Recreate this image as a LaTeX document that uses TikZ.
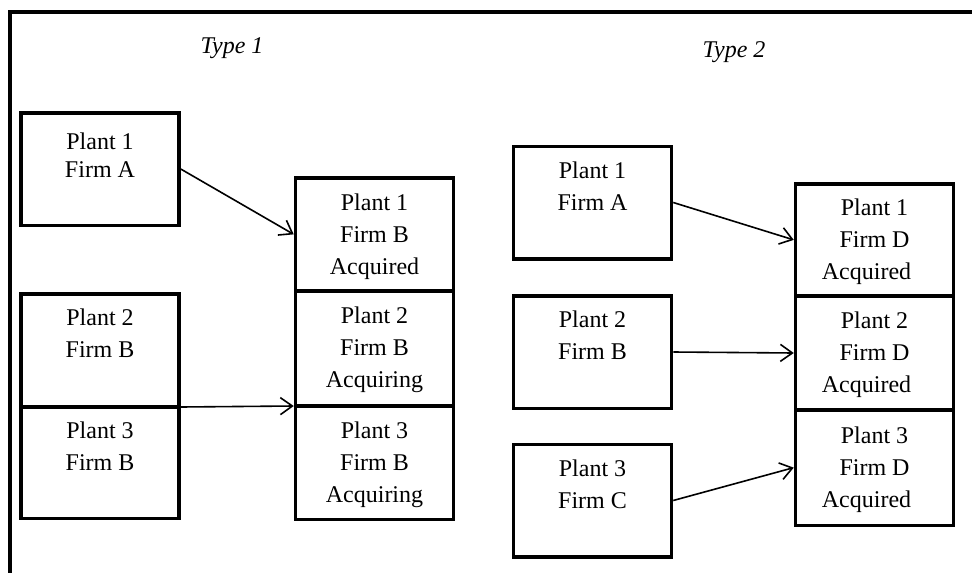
\documentclass[tikz,border=0pt]{standalone}
\usepackage{fontspec}
\setmainfont{Liberation Serif}
\usetikzlibrary{arrows.meta,calc}
\tikzset{
  plantbox/.style={draw, line width=3.5pt, minimum width=158pt, minimum height=#1, inner sep=0pt},
  plantbox/.default=112.5pt,
  txt/.style={inner sep=0pt, anchor=north, align=center, font=\fontsize{24}{32}\selectfont},
  txttight/.style={txt, font=\fontsize{24}{28}\selectfont},
  typelbl/.style={inner sep=0pt, anchor=base, font=\fontsize{24}{28}\selectfont\itshape},
  arr/.style={line width=1.6pt, -{Straight Barb[length=12pt,width=17pt,line width=1.6pt]}},
  frame/.style={line width=4pt, line join=miter}
}
\begin{document}
\begin{tikzpicture}[x=1pt,y=-1pt]
\useasboundingbox (0,0) rectangle (972,573);
\fill[white] (0,0) rectangle (972,573);
\draw[frame] (10,575) -- (10,12) -- (975,12);

\node[typelbl] (t1) at (232,53) {Type 1};
\node[typelbl] (t2) at (734,57) {Type 2};

% Type 1 left
\node[plantbox] (a1) at (100,169) {};
\node[plantbox=113.25pt] (a2) at (100,350.375) {};
\node[plantbox=111.25pt] (a3) at (100,462.625) {};
% Type 1 right
\node[plantbox=113.25pt] (b1) at (374.5,234.375) {};
\node[plantbox=115pt] (b2) at (374.5,348.5) {};
\node[plantbox=113.25pt] (b3) at (374.5,462.625) {};
% Type 2 left
\node[plantbox] (c1) at (592.5,202.5) {};
\node[plantbox] (c2) at (592.5,352) {};
\node[plantbox] (c3) at (592.5,500.5) {};
% Type 2 right
\node[plantbox=112.25pt] (d1) at (874.5,239.875) {};
\node[plantbox=114pt] (d2) at (874.5,353) {};
\node[plantbox=115.25pt] (d3) at (874.5,467.625) {};

% texts
\node[txttight] (a1t) at ($(a1.north)+(0,21.5)$) {Plant 1\\Firm A};
\node[txt] (a2t) at ($(a2.north)+(0,17)$) {Plant 2\\Firm B};
\node[txt] (a3t) at ($(a3.north)+(0,16)$) {Plant 3\\Firm B};
\node[txt] (b1t) at ($(b1.north)+(0,18)$) {Plant 1\\Firm B\\Acquired};
\node[txt] (b2t) at ($(b2.north)+(0,17)$) {Plant 2\\Firm B\\Acquiring};
\node[txt] (b3t) at ($(b3.north)+(0,17)$) {Plant 3\\Firm B\\Acquiring};
\node[txt] (c1t) at ($(c1.north)+(0,17)$) {Plant 1\\Firm A};
\node[txt] (c2t) at ($(c2.north)+(0,17)$) {Plant 2\\Firm B};
\node[txt] (c3t) at ($(c3.north)+(0,17)$) {Plant 3\\Firm C};
\node[txt] (d1t) at ($(d1.north)+(0,17)$) {Plant 1\\Firm D\\\mbox{Acquired\hspace{16pt}}};
\node[txt] (d2t) at ($(d2.north)+(0,17)$) {Plant 2\\Firm D\\\mbox{Acquired\hspace{16pt}}};
\node[txt] (d3t) at ($(d3.north)+(0,18)$) {Plant 3\\Firm D\\\mbox{Acquired\hspace{16pt}}};

% connectors
\coordinate (a23) at ($(a2.south east)!0.5!(a3.north east)$);
\coordinate (b23) at ($(b2.south west)!0.5!(b3.north west)$);
\draw[arr] (a1.east) -- (b1.west);
\draw[arr] (a23) -- (b23);
\draw[arr] (c1.east) -- (d1.west);
\draw[arr] (c2.east) -- (d2.west);
\draw[arr] (c3.east) -- (d3.west);
\end{tikzpicture}
\end{document}
